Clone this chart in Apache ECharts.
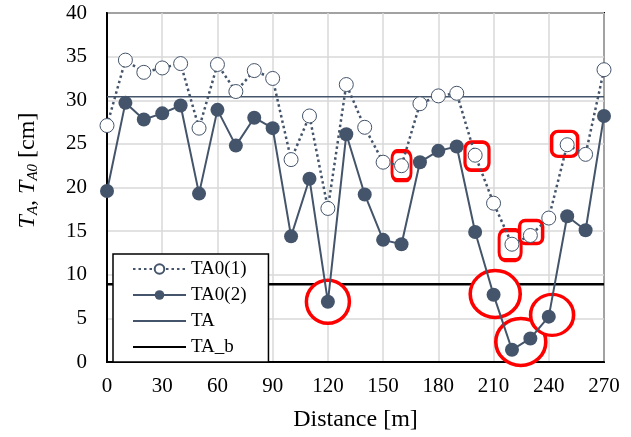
<!DOCTYPE html>
<html>
<head>
<meta charset="utf-8">
<script src="https://cdn.jsdelivr.net/npm/echarts@6/dist/echarts.min.js"></script>
<style>
html,body{margin:0;padding:0;background:#fff;}
#chart{width:631px;height:437px;}
</style>
</head>
<body>
<div id="chart"></div>
<script>
// ---- data ----
const distances = [0,10,20,30,40,50,60,70,80,90,100,110,120,130,140,150,160,170,180,190,200,210,220,230,240,250,260,270];
const ta0_1 = [27.1,34.6,33.2,33.7,34.2,26.8,34.1,31.0,33.4,32.5,23.2,28.2,17.6,31.8,26.9,22.9,22.5,29.6,30.5,30.8,23.7,18.2,13.5,14.5,16.5,24.9,23.8,33.5];
const ta0_2 = [19.6,29.7,27.8,28.5,29.4,19.3,28.9,24.8,28.0,26.8,14.4,21.0,6.9,26.1,19.2,14.0,13.5,22.9,24.2,24.7,14.9,7.7,1.4,2.7,5.2,16.7,15.1,28.2];
const taValue = 30.4;
const taBValue = 8.9;
const xTicks = [0,30,60,90,120,150,180,210,240,270];
const yTicks = [0,5,10,15,20,25,30,35,40];
const legendNames = ['TA0(1)','TA0(2)','TA','TA_b'];
// highlight annotations (data coordinates)
const ringX = [120, 210.9, 224.8, 241.8];
const ringY = [6.9, 7.8, 2.3, 5.4];
const boxX = [160, 201, 219, 230.4, 248.6];
const boxY = [22.5, 23.6, 13.4, 14.9, 25.0];

// ---- styling ----
const FONT = 'Liberation Serif';
const SLATE = '#44546A';
const RED = '#FF0000';
const ringSizes = [[43,43],[50,47],[50,47],[43,41]];
const boxSizes = [[19,29],[24,28],[22,30],[23,23],[26,25]];
const lineOnlyLegend = {'TA':true, 'TA_b':true};

const chart = echarts.init(document.getElementById('chart'), null, {renderer:'canvas'});
const xMin = xTicks[0], xMax = xTicks[xTicks.length-1], xStep = xTicks[1]-xTicks[0];
const yMin = yTicks[0], yMax = yTicks[yTicks.length-1], yStep = yTicks[1]-yTicks[0];

const option = {
  backgroundColor: '#fff',
  animation: false,
  grid: {left:107, right:27, top:13, bottom:74, show:true, borderColor:'#000', borderWidth:2, backgroundColor:'transparent'},
  xAxis: {
    type:'value', min:xMin, max:xMax, interval:xStep,
    name:'Distance [m]', nameLocation:'middle', nameGap:46,
    nameTextStyle:{fontFamily:FONT, fontSize:24, color:'#000'},
    axisLine:{show:true, lineStyle:{color:'#000', width:2}},
    axisTick:{show:false},
    axisLabel:{fontFamily:FONT, fontSize:21, color:'#000', margin:14},
    splitLine:{show:true, lineStyle:{color:'#d9d9d9', width:1.5}}
  },
  yAxis: {
    type:'value', min:yMin, max:yMax, interval:yStep,
    name:'{it|T}{sub|A}{n|, }{it|T}{sub|A0}{n| [cm]}', nameLocation:'middle', nameGap:66, nameRotate:90,
    nameTextStyle:{
      fontFamily:FONT, fontSize:24, color:'#000', padding:[0,0,0,34],
      rich:{
        it:{fontFamily:FONT, fontStyle:'italic', fontSize:24, lineHeight:26, color:'#000', verticalAlign:'middle'},
        sub:{fontFamily:FONT, fontStyle:'italic', fontSize:15, lineHeight:12, color:'#000', verticalAlign:'bottom'},
        n:{fontFamily:FONT, fontSize:24, lineHeight:26, color:'#000', verticalAlign:'middle'}
      }
    },
    axisLine:{show:true, lineStyle:{color:'#000', width:2}},
    axisTick:{show:false},
    axisLabel:{fontFamily:FONT, fontSize:21, color:'#000', margin:20},
    splitLine:{show:true, lineStyle:{color:'#d9d9d9', width:1.5}}
  },
  legend: {
    data: legendNames.map(n => lineOnlyLegend[n] ? {name:n, itemStyle:{opacity:0, borderWidth:0}} : {name:n}),
    orient:'vertical', left:113, top:254,
    backgroundColor:'#fff', borderColor:'#000', borderWidth:1.5,
    padding:[5,22,5,19],
    itemWidth:53, itemHeight:12, itemGap:6,
    textStyle:{fontFamily:FONT, fontSize:19, lineHeight:20, color:'#000'},
    selectedMode:false
  },
  series: [
    {
      name:'TA', type:'line', symbol:'none', silent:true,
      data:[[xMin,taValue],[xMax,taValue]],
      lineStyle:{color:SLATE, width:1.5}, itemStyle:{color:SLATE}, z:2
    },
    {
      name:'TA_b', type:'line', symbol:'none', silent:true,
      data:[[xMin,taBValue],[xMax,taBValue]],
      lineStyle:{color:'#000', width:2.5}, itemStyle:{color:'#000'}, z:2
    },
    {
      name:'rings', type:'scatter', silent:true, symbol:'circle',
      data: ringX.map((x,i)=>[x, ringY[i]]),
      symbolSize:(v,p)=>ringSizes[p.dataIndex],
      itemStyle:{color:'#fff', borderColor:RED, borderWidth:3.5, opacity:1}, z:3
    },
    {
      name:'boxes', type:'scatter', silent:true, symbol:'roundRect',
      data: boxX.map((x,i)=>[x, boxY[i]]),
      symbolSize:(v,p)=>boxSizes[p.dataIndex],
      itemStyle:{color:'#fff', borderColor:RED, borderWidth:3.5, opacity:1}, z:3
    },
    {
      name:'TA0(1)', type:'line', symbol:'circle', symbolSize:14, showAllSymbol:true,
      data: distances.map((d,i)=>[d, ta0_1[i]]),
      lineStyle:{color:SLATE, width:2.5, type:[2.5,3]},
      itemStyle:{color:'#fff', borderColor:SLATE, borderWidth:1}, z:4
    },
    {
      name:'TA0(2)', type:'line', symbol:'circle', symbolSize:14, showAllSymbol:true,
      data: distances.map((d,i)=>[d, ta0_2[i]]),
      lineStyle:{color:SLATE, width:2},
      itemStyle:{color:SLATE, borderColor:SLATE, borderWidth:0}, z:5
    }
  ]
};
chart.setOption(option);
</script>
</body>
</html>
